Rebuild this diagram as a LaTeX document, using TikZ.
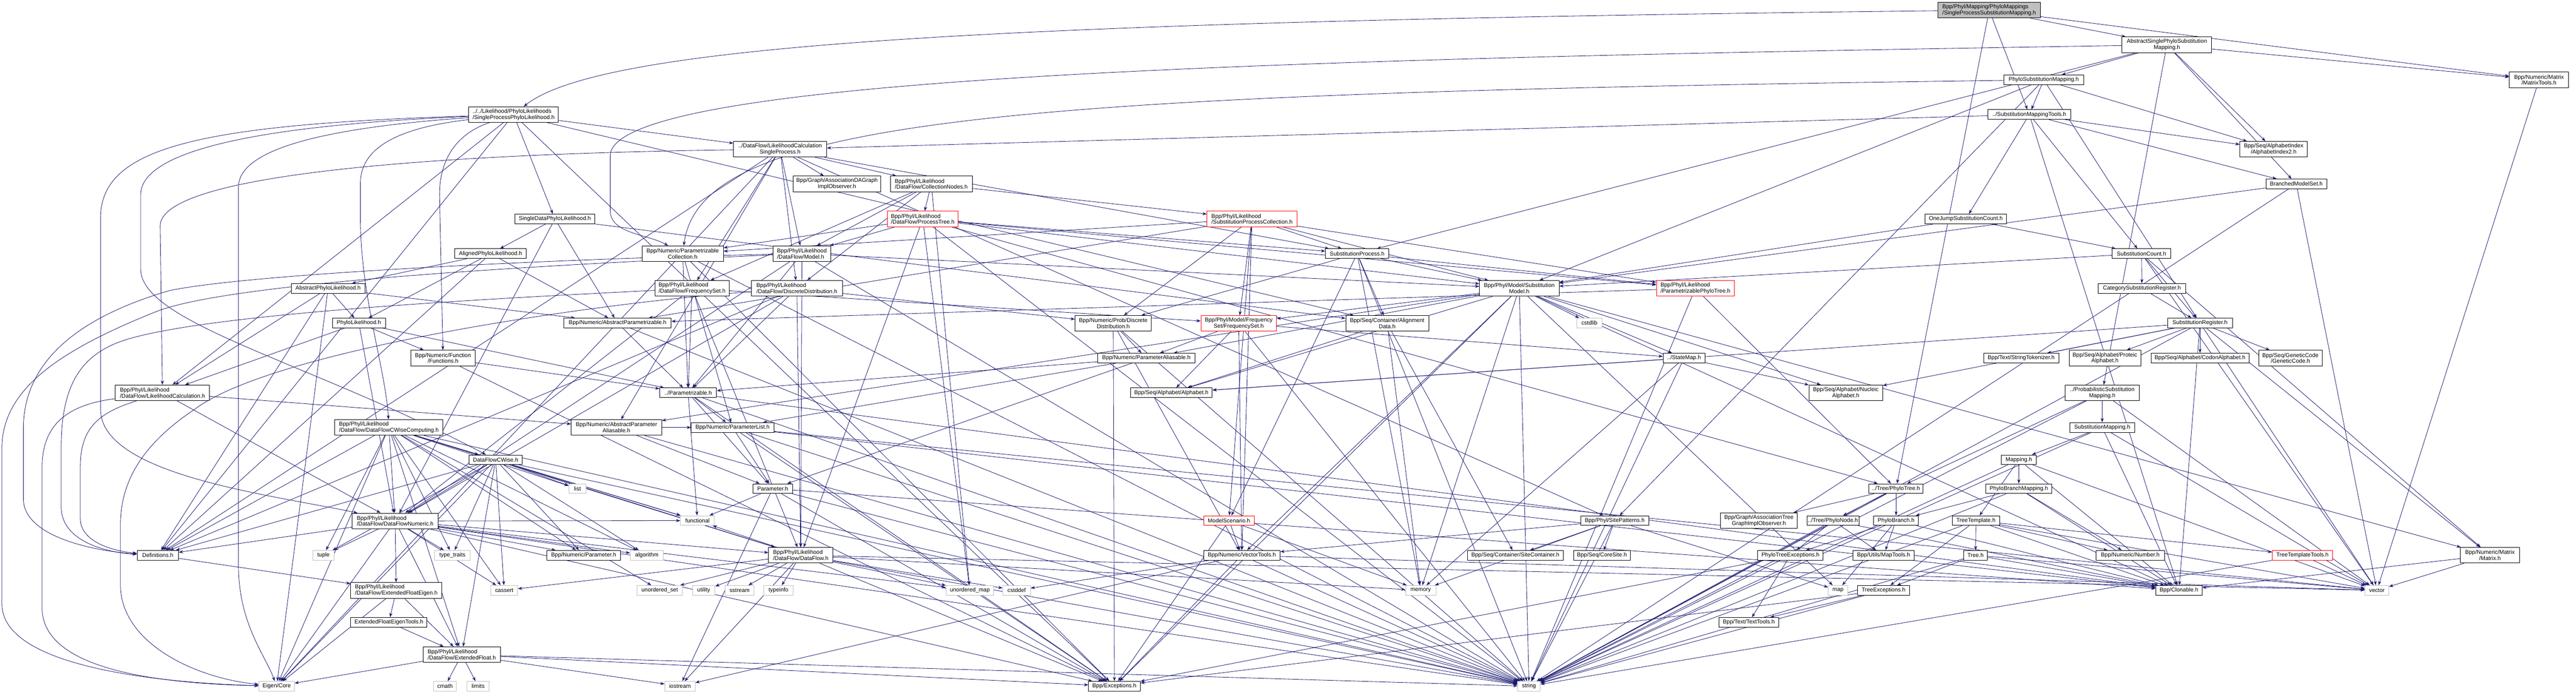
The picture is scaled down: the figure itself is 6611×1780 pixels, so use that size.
\documentclass[tikz,border=0pt]{standalone}
\usepackage{fontspec}
\setmainfont{Liberation Sans}
\usetikzlibrary{arrows.meta}
\definecolor{edgec}{HTML}{191970}
\definecolor{mainfill}{HTML}{BFBFBF}
\definecolor{extgray}{HTML}{BFBFBF}
\newcommand\nf{\fontsize{14.5}{15.5}\selectfont}
\pgfdeclarelayer{bg}
\pgfsetlayers{bg,main}
\tikzset{
  nd/.style={draw=black, fill=white, line width=1.2pt, inner sep=0pt, font=\nf, minimum height=25pt},
  two/.style={minimum height=40pt},
  gr/.style={draw=extgray},
  rd/.style={draw=red},
  lf/.style={align=left},
  ct/.style={align=center},
  e/.style={draw=edgec, line width=1.1pt, -{Stealth[length=11pt,width=8pt]}},
}
\begin{document}
\begin{tikzpicture}[x=1pt,y=-1pt]
\useasboundingbox (0,0) rectangle (6611,1780);
% top / mapping part
\node[nd,two,lf,fill=mainfill,minimum width=263pt] (M) at (5105,26) {Bpp/Phyl/Mapping/PhyloMappings\\/SingleProcessSubstitutionMapping.h};
\node[nd,two,ct,minimum width=230pt] (ASPSM) at (5561,115) {AbstractSinglePhyloSubstitution\\Mapping.h};
\node[nd,two,ct,minimum width=152pt] (MatrixTools) at (6516,205) {Bpp/Numeric/Matrix\\/MatrixTools.h};
\node[nd,minimum width=204pt] (PSM) at (5245,205) {PhyloSubstitutionMapping.h};
\node[nd,minimum width=214pt] (SMT) at (5208,294) {../SubstitutionMappingTools.h};
\node[nd,two,ct,minimum width=173pt] (AlphIdx2) at (5835,383) {Bpp/Seq/AlphabetIndex\\/AlphabetIndex2.h};
\node[nd,minimum width=156pt] (BMS) at (5893,472) {BranchedModelSet.h};
\node[nd,minimum width=209pt] (OneJump) at (5045,562) {OneJumpSubstitutionCount.h};
\node[nd,minimum width=151pt] (SubCount) at (5496,651) {SubstitutionCount.h};
\node[nd,minimum width=225pt] (CatSubReg) at (5497,740) {CategorySubstitutionRegister.h};
\node[nd,minimum width=167pt] (SubReg) at (5646,829) {SubstitutionRegister.h};
\node[nd,minimum width=193pt] (StrTok) at (5187,919) {Bpp/Text/StringTokenizer.h};
\node[nd,two,ct,minimum width=184pt] (Proteic) at (5402,919) {Bpp/Seq/Alphabet/Proteic\\Alphabet.h};
\node[nd,minimum width=251pt] (Codon) at (5646,919) {Bpp/Seq/Alphabet/CodonAlphabet.h};
\node[nd,two,ct,minimum width=163pt] (GenCode) at (5878,919) {Bpp/Seq/GeneticCode\\/GeneticCode.h};
\node[nd,two,ct,minimum width=190pt] (ProbSM) at (5395,1008) {../ProbabilisticSubstitution\\Mapping.h};
\node[nd,minimum width=167pt] (SubMapping) at (5395,1097) {SubstitutionMapping.h};
\node[nd,minimum width=90pt] (Mapping) at (5181,1180) {Mapping.h};
\node[nd,minimum width=170pt] (PBM) at (5181,1254) {PhyloBranchMapping.h};
\node[nd,minimum width=121pt] (TreeTempl) at (5071,1336) {TreeTemplate.h};
\node[nd,minimum width=61pt] (Tree) at (5070,1425) {Tree.h};
\node[nd,minimum width=175pt] (Number) at (5467,1425) {Bpp/Numeric/Number.h};
\node[nd,rd,minimum width=155pt] (TTT) at (5909,1425) {TreeTemplateTools.h};
\node[nd,two,ct,minimum width=152pt] (Matrix) at (6390,1425) {Bpp/Numeric/Matrix\\/Matrix.h};
\node[nd,minimum width=119pt] (Clonable) at (5592,1515) {Bpp/Clonable.h};
\node[nd,gr,minimum width=61pt] (vector) at (6100,1515) {vector};
% likelihood part
\node[nd,two,lf,minimum width=230pt] (SPPL) at (1318,294) {../../Likelihood/PhyloLikelihoods\\/SingleProcessPhyloLikelihood.h};
\node[nd,minimum width=206pt] (SDPL) at (1424,562) {SingleDataPhyloLikelihood.h};
\node[nd,minimum width=184pt] (APL) at (1259,651) {AlignedPhyloLikelihood.h};
\node[nd,minimum width=190pt] (AbPL) at (842,740) {AbstractPhyloLikelihood.h};
\node[nd,minimum width=136pt] (PL) at (921,829) {PhyloLikelihood.h};
\node[nd,minimum width=275pt] (AbsParz) at (1585,829) {Bpp/Numeric/AbstractParametrizable.h};
\node[nd,two,ct,minimum width=209pt] (ParzColl) at (1752,651) {Bpp/Numeric/Parametrizable\\Collection.h};
\node[nd,two,lf,minimum width=191pt] (DFFreq) at (1776,740) {Bpp/Phyl/Likelihood\\/DataFlow/FrequencySet.h};
\node[nd,two,ct,minimum width=165pt] (Func) at (1137,919) {Bpp/Numeric/Function\\/Functions.h};
\node[nd,two,lf,minimum width=242pt] (LikCalc) at (417,1008) {Bpp/Phyl/Likelihood\\/DataFlow/LikelihoodCalculation.h};
\node[nd,two,ct,minimum width=232pt] (AbsParAl) at (1582,1097) {Bpp/Numeric/AbstractParameter\\Aliasable.h};
\node[nd,minimum width=146pt] (Parz) at (1766,1008) {../Parametrizable.h};
\node[nd,two,lf,minimum width=278pt] (DFCWC) at (998,1097) {Bpp/Phyl/Likelihood\\/DataFlow/DataFlowCWiseComputing.h};
\node[nd,minimum width=137pt] (DFCW) at (1272,1180) {DataFlowCWise.h};
\node[nd,gr,minimum width=44pt] (list) at (1482,1254) {list};
\node[nd,two,lf,minimum width=220pt] (DFN) at (1014,1337) {Bpp/Phyl/Likelihood\\/DataFlow/DataFlowNumeric.h};
\node[nd,minimum width=106pt] (Defs) at (405,1425) {Definitions.h};
\node[nd,gr,minimum width=54pt] (tuple) at (830,1425) {tuple};
\node[nd,gr,minimum width=91pt] (typetraits) at (1161,1425) {type\_traits};
\node[nd,minimum width=189pt] (NParam) at (1498,1425) {Bpp/Numeric/Parameter.h};
\node[nd,gr,minimum width=85pt] (algorithm) at (1660,1425) {algorithm};
\node[nd,gr,minimum width=69pt] (cassert) at (1294,1515) {cassert};
\node[nd,gr,minimum width=116pt] (unordset) at (1693,1515) {unordered\_set};
\node[nd,two,lf,minimum width=234pt] (EFE) at (1017,1515) {Bpp/Phyl/Likelihood\\/DataFlow/ExtendedFloatEigen.h};
\node[nd,minimum width=196pt] (EFET) at (998,1597) {ExtendedFloatEigenTools.h};
\node[nd,two,lf,minimum width=198pt] (EF) at (1185,1680) {Bpp/Phyl/Likelihood\\/DataFlow/ExtendedFloat.h};
\node[nd,gr,minimum width=91pt] (Eigen) at (710,1761) {Eigen/Core};
\node[nd,gr,minimum width=58pt] (cmath) at (1142,1761) {cmath};
\node[nd,gr,minimum width=58pt] (limits) at (1227,1761) {limits};
% middle part
\node[nd,two,ct,minimum width=239pt] (LCSP) at (2002,383) {../DataFlow/LikelihoodCalculation\\SingleProcess.h};
\node[nd,two,ct,minimum width=225pt] (AssocDAG) at (2148,472) {Bpp/Graph/AssociationDAGraph\\ImplObserver.h};
\node[nd,two,lf,minimum width=210pt] (CollNodes) at (2390,472) {Bpp/Phyl/Likelihood\\/DataFlow/CollectionNodes.h};
\node[nd,two,lf,rd,minimum width=181pt] (ProcTree) at (2368,562) {Bpp/Phyl/Likelihood\\/DataFlow/ProcessTree.h};
\node[nd,two,lf,rd,minimum width=231pt] (SPC) at (3213,562) {Bpp/Phyl/Likelihood\\/SubstitutionProcessCollection.h};
\node[nd,two,lf,minimum width=148pt] (DFModel) at (2058,651) {Bpp/Phyl/Likelihood\\/DataFlow/Model.h};
\node[nd,two,lf,minimum width=234pt] (DFDiscr) at (2045,740) {Bpp/Phyl/Likelihood\\/DataFlow/DiscreteDistribution.h};
\node[nd,two,ct,minimum width=196pt] (ProbDiscr) at (2857,830) {Bpp/Numeric/Prob/Discrete\\Distribution.h};
\node[nd,two,ct,rd,minimum width=194pt] (FreqSet) at (3179,830) {Bpp/Phyl/Model/Frequency\\Set/FrequencySet.h};
\node[nd,minimum width=250pt] (ParAl) at (2942,919) {Bpp/Numeric/ParameterAliasable.h};
\node[nd,minimum width=210pt] (Alphabet) at (3006,1008) {Bpp/Seq/Alphabet/Alphabet.h};
\node[nd,minimum width=212pt] (ParList) at (1880,1097) {Bpp/Numeric/ParameterList.h};
\node[nd,minimum width=101pt] (Param) at (1983,1254) {Parameter.h};
\node[nd,gr,minimum width=87pt] (functional) at (1790,1336) {functional};
\node[nd,two,lf,minimum width=165pt] (DataFlow) at (2055,1425) {Bpp/Phyl/Likelihood\\/DataFlow/DataFlow.h};
\node[nd,gr,minimum width=58pt] (utility) at (1806,1515) {utility};
\node[nd,gr,minimum width=74pt] (sstream) at (1898,1515) {sstream};
\node[nd,gr,minimum width=75pt] (typeinfo) at (1998,1515) {typeinfo};
\node[nd,gr,minimum width=122pt] (unordmap) at (2489,1515) {unordered\_map};
\node[nd,gr,minimum width=71pt] (cstddef) at (2609,1515) {cstddef};
\node[nd,rd,minimum width=130pt] (ModelScen) at (3154,1336) {ModelScenario.h};
\node[nd,minimum width=196pt] (VecTools) at (3187,1425) {Bpp/Numeric/VectorTools.h};
\node[nd,gr,minimum width=78pt] (iostream) at (1745,1761) {iostream};
\node[nd,minimum width=133pt] (Exceptions) at (2860,1761) {Bpp/Exceptions.h};
\node[nd,minimum width=163pt] (SubProc) at (3483,651) {SubstitutionProcess.h};
\node[nd,two,ct,minimum width=204pt] (SubModel) at (3899,740) {Bpp/Phyl/Model/Substitution\\Model.h};
\node[nd,two,lf,rd,minimum width=200pt] (ParzTree) at (4351,740) {Bpp/Phyl/Likelihood\\/ParametrizablePhyloTree.h};
\node[nd,two,ct,minimum width=213pt] (AlignData) at (3560,830) {Bpp/Seq/Container/Alignment\\Data.h};
\node[nd,gr,minimum width=65pt] (cstdlib) at (4079,829) {cstdlib};
\node[nd,minimum width=108pt] (StateMap) at (4322,919) {../StateMap.h};
\node[nd,two,ct,minimum width=189pt] (NucAlph) at (4737,1008) {Bpp/Seq/Alphabet/Nucleic\\Alphabet.h};
\node[nd,minimum width=139pt] (PhyloTree) at (4866,1254) {../Tree/PhyloTree.h};
\node[nd,minimum width=175pt] (SitePat) at (4144,1336) {Bpp/Phyl/SitePatterns.h};
\node[nd,two,ct,minimum width=196pt] (AssocTree) at (4514,1336) {Bpp/Graph/AssociationTree\\GraphImplObserver.h};
\node[nd,minimum width=133pt] (PhyloNode) at (4704,1336) {../Tree/PhyloNode.h};
\node[nd,minimum width=115pt] (PhyloBranch) at (4866,1336) {PhyloBranch.h};
\node[nd,minimum width=246pt] (SiteCont) at (3889,1425) {Bpp/Seq/Container/SiteContainer.h};
\node[nd,minimum width=145pt] (CoreSite) at (4111,1425) {Bpp/Seq/CoreSite.h};
\node[nd,minimum width=168pt] (PTExc) at (4595,1425) {PhyloTreeExceptions.h};
\node[nd,minimum width=158pt] (MapTools) at (4834,1425) {Bpp/Utils/MapTools.h};
\node[nd,gr,minimum width=78pt] (memory) at (3646,1515) {memory};
\node[nd,gr,minimum width=50pt] (map) at (4717,1515) {map};
\node[nd,minimum width=133pt] (TreeExc) at (4834,1515) {TreeExceptions.h};
\node[nd,minimum width=154pt] (TextTools) at (4488,1597) {Bpp/Text/TextTools.h};
\node[nd,gr,minimum width=58pt] (string) at (3924,1761) {string};

\begin{pgfonlayer}{bg}
% routed (curved) connectors
\draw[e] (M) .. controls (2600,55) and (1550,110) .. (SPPL);
\draw[e] (ASPSM) .. controls (3400,150) and (1566,190) .. (1566,400) -- (1566,540) .. controls (1566,600) and (1660,600) .. (ParzColl);
\draw[e] (PSM) .. controls (2600,240) and (1800,300) .. (ParzColl);
\draw[e] (SPPL) .. controls (500,320) and (258,380) .. (258,560) -- (258,1050) .. controls (258,1220) and (700,1270) .. (DFN);
\draw[e] (SPPL) .. controls (700,320) and (361,380) .. (361,500) -- (361,690) .. controls (361,830) and (800,930) .. (DFCW);
\draw[e] (SPPL) .. controls (800,330) and (612,390) .. (612,480) -- (612,1450) .. controls (612,1600) and (680,1680) .. (Eigen);
\draw[e] (SPPL) .. controls (1000,330) and (925,390) .. (925,470) -- (925,560) .. controls (925,760) and (990,950) .. (DFCWC);
\draw[e] (SPPL) .. controls (1180,340) and (1128,400) .. (1128,500) -- (Func);
\draw[e] (LCSP) .. controls (1300,392) and (411,430) .. (411,580) -- (LikCalc);
\draw[e] (LikCalc) .. controls (160,1040) and (108,1100) .. (108,1200) -- (108,1560) .. controls (108,1730) and (450,1755) .. (Eigen);
\draw[e] (LikCalc) .. controls (250,1060) and (206,1100) .. (206,1200) -- (206,1330) .. controls (206,1395) and (300,1415) .. (Defs);
\draw[e] (DFModel) .. controls (1500,662) and (650,700) .. (434,746) .. controls (250,800) and (60,900) .. (60,1100) -- (60,1280) .. controls (60,1380) and (250,1415) .. (Defs);
\draw[e] (DFModel) .. controls (1500,675) and (600,720) .. (400,800) .. controls (150,900) and (5,1000) .. (5,1150) -- (5,1550) .. controls (5,1710) and (400,1752) .. (Eigen);
\draw[e] (DFFreq) .. controls (1400,760) and (500,800) .. (300,880) .. controls (200,920) and (157,1000) .. (157,1150) -- (157,1300) .. controls (157,1400) and (300,1420) .. (Defs);
\draw[e] (DFDiscr) .. controls (1500,780) and (700,900) .. (500,1050) .. controls (350,1150) and (309,1250) .. (309,1350) -- (309,1500) .. controls (309,1650) and (500,1740) .. (Eigen);
% straight connectors
\foreach \a/\b in {
M/ASPSM, M/MatrixTools, M/SMT, M/PhyloTree,
ASPSM/PSM, ASPSM/AlphIdx2, ASPSM/BMS, ASPSM/MatrixTools, ASPSM/ProbSM, ASPSM/SubProc,
PSM/SMT, PSM/AlphIdx2, PSM/SubReg, PSM/SubModel, PSM/SitePat,
SMT/AlphIdx2, SMT/BMS, SMT/OneJump, SMT/SubCount, SMT/LCSP, SMT/Clonable,
OneJump/SubCount, OneJump/SubModel,
BMS/SubModel, BMS/vector, BMS/string,
SubCount/CatSubReg, SubCount/SubReg, SubCount/Matrix, SubCount/vector, SubCount/SubModel,
CatSubReg/SubReg,
SubReg/StrTok, SubReg/Proteic, SubReg/Codon, SubReg/GenCode, SubReg/NucAlph, SubReg/Alphabet, SubReg/Matrix, SubReg/vector, SubReg/Clonable, SubReg/string,
ProbSM/SubMapping, ProbSM/vector, ProbSM/PhyloTree, ProbSM/string,
SubMapping/Mapping, SubMapping/Clonable, SubMapping/vector, SubMapping/string,
Mapping/PBM, Mapping/TreeTempl, Mapping/Clonable, Mapping/vector, Mapping/string,
PBM/Number, PBM/Clonable, PBM/PhyloBranch, PBM/string,
TreeTempl/Tree, TreeTempl/TTT, TreeTempl/Clonable, TreeTempl/vector, TreeTempl/TreeExc, TreeTempl/string, TreeTempl/Number,
Tree/Clonable, Tree/vector, Tree/TreeExc, Tree/string,
TTT/vector, TTT/string,
Matrix/vector, Matrix/Clonable, MatrixTools/vector,
SPPL/SDPL, SPPL/LCSP, SPPL/Defs, SPPL/AlignData, SPPL/Exceptions, SPPL/LikCalc,
SDPL/APL, SDPL/AbsParz, SDPL/AlignData, SDPL/DFN,
APL/AbPL, APL/PL, APL/AbsParz, APL/Defs,
AbPL/PL, AbPL/LikCalc, AbPL/Defs, AbPL/AbsParz, AbPL/Eigen,
PL/LikCalc, PL/Func, PL/DFN, PL/Parz,
LikCalc/DFN, LikCalc/AbsParAl,
Func/Parz, Func/Exceptions,
AbsParAl/Param, AbsParAl/ParList, AbsParAl/string,
AbsParz/Parz, AbsParz/string,
ParzColl/Parz, ParzColl/ParList, ParzColl/Exceptions, ParzColl/string,
Parz/ParList, Parz/Param, Parz/functional, Parz/Clonable, Parz/Exceptions, Parz/string,
ParAl/Parz, ParAl/ParList, ParAl/Param,
ParList/Param, ParList/Clonable, ParList/string, ParList/vector, ParList/Exceptions,
Param/functional, Param/Exceptions, Param/iostream, Param/string, Param/Clonable,
DFCWC/DFCW, DFCWC/DFN, DFCWC/Defs, DFCWC/tuple, DFCWC/typetraits, DFCWC/cassert, DFCWC/list, DFCWC/NParam, DFCWC/algorithm, DFCWC/Eigen, DFCWC/DataFlow, DFCWC/functional, DFCWC/EF, DFCWC/string, DFCWC/unordset,
DFCW/DFN, DFCW/Defs, DFCW/tuple, DFCW/typetraits, DFCW/NParam, DFCW/algorithm, DFCW/cassert, DFCW/list, DFCW/Eigen, DFCW/DataFlow, DFCW/functional, DFCW/EF, DFCW/string,
DFN/Defs, DFN/tuple, DFN/typetraits, DFN/NParam, DFN/cassert, DFN/EFE, DFN/Eigen, DFN/algorithm, DFN/DataFlow, DFN/functional, DFN/unordmap, DFN/string, DFN/Exceptions, DFN/EF,
Defs/EFE, EFE/EFET, EFE/EF, EFE/Eigen, EFET/EF,
EF/Eigen, EF/cmath, EF/limits, EF/iostream, EF/string, EF/Exceptions,
LCSP/AssocDAG, LCSP/CollNodes, LCSP/DFModel, LCSP/DFFreq, LCSP/DFDiscr, LCSP/Defs, LCSP/Eigen, LCSP/SubProc, LCSP/SitePat, LCSP/AbsParAl,
CollNodes/ProcTree, CollNodes/SPC, CollNodes/DFModel, CollNodes/DFFreq, CollNodes/DFDiscr, CollNodes/unordmap,
ProcTree/ParzColl, ProcTree/DFModel, ProcTree/ParzTree, ProcTree/SubProc, ProcTree/SubModel, ProcTree/DataFlow, ProcTree/string, ProcTree/PhyloTree, ProcTree/unordmap,
SPC/ParzColl, SPC/ProbDiscr, SPC/FreqSet, SPC/SubProc, SPC/SubModel, SPC/ParzTree, SPC/ModelScen, SPC/VecTools, SPC/AbsParz,
DFModel/DataFlow, DFModel/SubModel, DFModel/Parz, DFModel/DFN, DFModel/string,
DFFreq/FreqSet, DFFreq/DataFlow, DFFreq/Parz, DFFreq/DFN,
DFDiscr/ProbDiscr, DFDiscr/DataFlow, DFDiscr/Parz, DFDiscr/Defs, DFDiscr/DFN,
ProbDiscr/ParAl, ProbDiscr/VecTools, ProbDiscr/Exceptions, ProbDiscr/string,
FreqSet/ParAl, FreqSet/Alphabet, FreqSet/StateMap, FreqSet/VecTools, FreqSet/string,
ModelScen/VecTools, ModelScen/memory, ModelScen/Exceptions,
VecTools/Exceptions, VecTools/iostream, VecTools/string, VecTools/vector, VecTools/cstddef,
DataFlow/unordset, DataFlow/utility, DataFlow/sstream, DataFlow/typeinfo, DataFlow/unordmap, DataFlow/cstddef, DataFlow/iostream, DataFlow/Exceptions, DataFlow/string, DataFlow/functional, DataFlow/memory, DataFlow/vector, DataFlow/cassert,
SubProc/SubModel, SubProc/AlignData, SubProc/ParzTree, SubProc/ProbDiscr, SubProc/ModelScen, SubProc/memory, SubProc/string,
SubModel/StateMap, SubModel/cstdlib, SubModel/Alphabet, SubModel/ParAl, SubModel/FreqSet, SubModel/VecTools, SubModel/Matrix, SubModel/memory, SubModel/string, SubModel/map, SubModel/Exceptions, SubModel/AbsParAl, SubModel/NucAlph, SubModel/Clonable,
ParzTree/PhyloTree, ParzTree/string, ParzTree/AbsParz,
AlignData/Alphabet, AlignData/SiteCont, AlignData/memory,
SitePat/SiteCont, SitePat/CoreSite, SitePat/memory, SitePat/string, SitePat/map, SitePat/VecTools,
StateMap/NucAlph, StateMap/Alphabet, StateMap/string, StateMap/memory,
PhyloTree/AssocTree, PhyloTree/PhyloNode, PhyloTree/PhyloBranch, PhyloTree/string,
PhyloNode/PTExc, PhyloNode/MapTools, PhyloNode/string, PhyloNode/Clonable,
PhyloBranch/PTExc, PhyloBranch/MapTools, PhyloBranch/Clonable, PhyloBranch/map,
PTExc/TextTools, PTExc/string, PTExc/Exceptions,
TreeExc/TextTools, TreeExc/Exceptions, TreeExc/string}
  \draw[e] (\a) -- (\b);
\end{pgfonlayer}
\end{tikzpicture}
\end{document}
